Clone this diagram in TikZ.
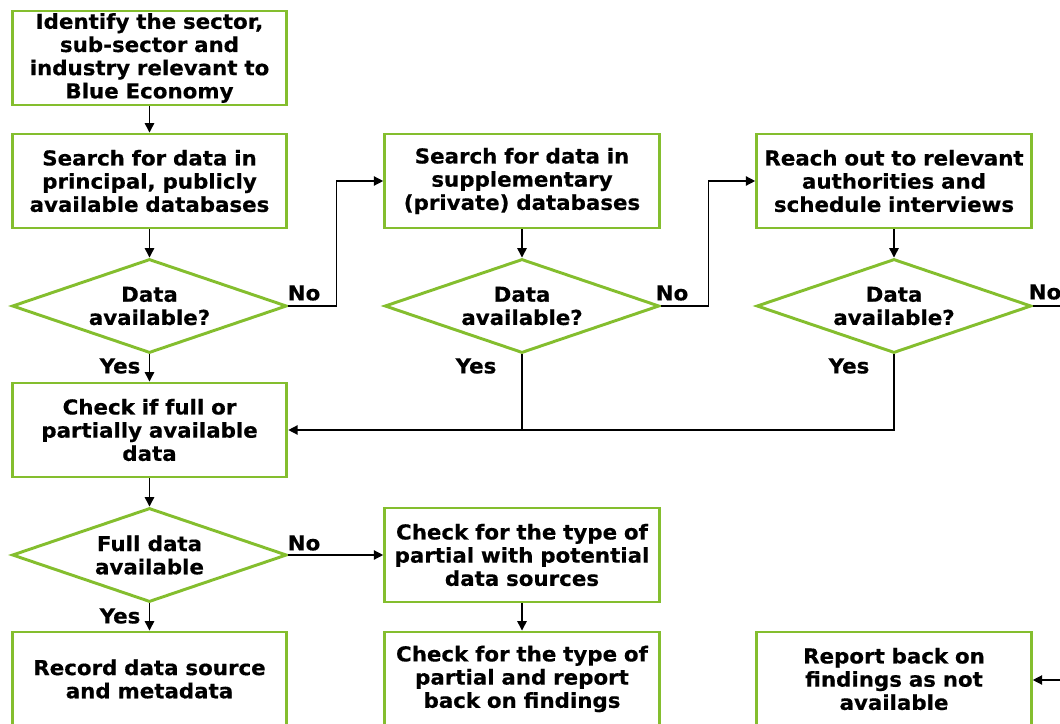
\documentclass[tikz,border=0pt]{standalone}
\usepackage{fontspec}
\setmainfont{DejaVu Sans}
\newfontfamily\chartfont[FakeStretch=1.04,FakeBold=0.5]{DejaVu Sans Bold}
\usetikzlibrary{shapes.geometric,arrows.meta}
\definecolor{boxgreen}{RGB}{132,190,46}

\tikzset{
  procbox/.style={draw=boxgreen,line width=2.2pt,fill=white,minimum width=206pt,minimum height=70.5pt,
    text width=206pt,align=center,inner sep=0pt,font=\chartfont\fontsize{15.4}{17.4}\selectfont},
  decision/.style={diamond,draw=boxgreen,line width=2.2pt,fill=white,aspect=2.93,minimum width=206pt,
    minimum height=70.5pt,inner sep=0pt,align=center,font=\chartfont\fontsize{15.4}{17.4}\selectfont},
  lbl/.style={font=\chartfont\fontsize{15.4}{16}\selectfont,inner sep=0pt},
  flow/.style={line width=1pt,-{Triangle[length=7pt,width=7pt]}},
  plain/.style={line width=1pt}
}

\begin{document}
\begin{tikzpicture}[x=0.75pt,y=-0.75pt]
            \useasboundingbox (0,0) rectangle (1060,724);
            % first column
            \node[procbox] (identify) at (149.5,58) {Identify the sector,\\sub-sector and\\industry relevant to\\Blue Economy};
            \node[procbox] (principal) at (149.5,181) {Search for data in\\principal, publicly\\available databases};
            \node[decision] (avail1) at (149.5,306) {Data\\available?};
            \node[procbox] (checkfull) at (149.5,430) {Check if full or\\partially available\\data};
            \node[decision] (fulldata) at (149.5,555) {Full data\\available};
            \node[procbox] (record) at (149.5,679) {Record data source\\and metadata};
            % second column
            \node[procbox] (supp) at (522,181) {Search for data in\\supplementary\\(private) databases};
            \node[decision] (avail2) at (522,306) {Data\\available?};
            \node[procbox] (potential) at (522,555) {Check for the type of\\partial with potential\\data sources};
            \node[procbox] (partial) at (522,679) {Check for the type of\\partial and report\\back on findings};
            % third column
            \node[procbox] (reach) at (894,181) {Reach out to relevant\\authorities and\\schedule interviews};
            \node[decision] (avail3) at (894,306) {Data\\available?};
            \node[procbox] (report) at (894,679) {Report back on\\findings as not\\available};
            \coordinate (offright) at (1075,306);
            \coordinate (offin) at (1075,680);

            % connectors
            \draw[flow] (identify) -- (principal);
            \draw[flow] (principal) -- (avail1);
            \draw[flow] (avail1) -- (checkfull);
            \draw[flow] (checkfull) -- (fulldata);
            \draw[flow] (fulldata) -- (record);
            \draw[flow] (avail1.east) -- ++(48,0) |- (supp.west);
            \draw[flow] (supp) -- (avail2);
            \draw[flow] (avail2.east) -- ++(48,0) |- (reach.west);
            \draw[flow] (reach) -- (avail3);
            \draw[flow] (avail2.south) |- (checkfull.east);
            \draw[plain] (avail3.south) |- (avail2.south |- checkfull.east);
            \draw[plain] (avail3.east) -- (offright);
            \draw[flow] (fulldata.east) -- (potential.west);
            \draw[flow] (potential) -- (partial);
            \draw[flow] (offin) -- (report.east |- offin);

            % labels
            \node[lbl] (no1) at (304,293) {No};
            \node[lbl] (no2) at (672,293) {No};
            \node[lbl] (no3) at (1045,292) {No};
            \node[lbl] (yes1) at (120,366) {Yes};
            \node[lbl] (yes2) at (476,366) {Yes};
            \node[lbl] (yes3) at (849,366) {Yes};
            \node[lbl] (no4) at (304,543) {No};
            \node[lbl] (yes4) at (120,616) {Yes};
        \end{tikzpicture}
\end{document}
